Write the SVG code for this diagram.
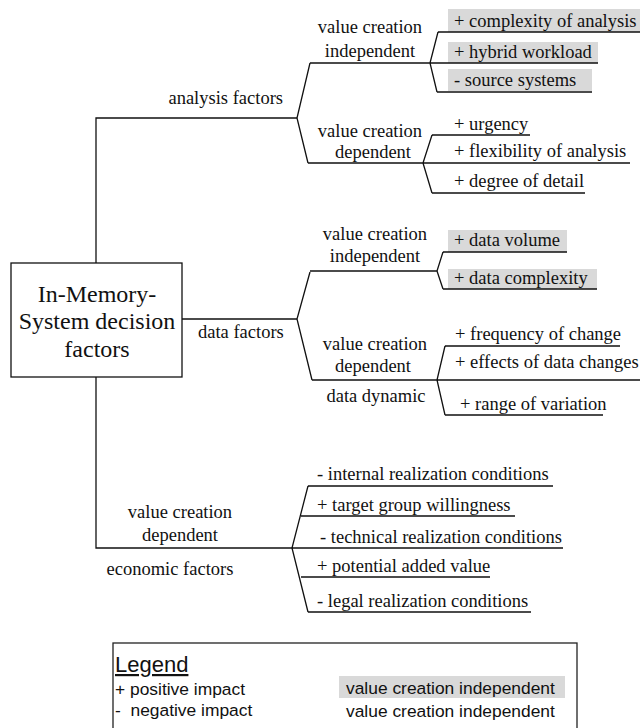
<svg xmlns="http://www.w3.org/2000/svg" width="640" height="728" viewBox="0 0 640 728">
<style>
.t{font-family:"Liberation Serif","Times New Roman",serif;font-size:18.5px;fill:#111}
.c{text-anchor:middle}
.big{font-family:"Liberation Serif","Times New Roman",serif;font-size:24px;fill:#111;text-anchor:middle}
.l{font-family:"Liberation Sans",Arial,sans-serif;font-size:17.4px;fill:#111}
.lg{font-family:"Liberation Sans",Arial,sans-serif;font-size:22px;fill:#111;text-decoration:underline}
.hl{fill:#d9d9d9}
.ln{fill:none;stroke:#111;stroke-width:1.3}
</style>
<rect width="640" height="728" fill="#fff"/>
<g id="highlights">
<rect class="hl" x="448" y="9" width="192" height="23"/>
<rect class="hl" x="448" y="42" width="150" height="21"/>
<rect class="hl" x="448" y="69" width="144" height="22"/>
<rect class="hl" x="448" y="230" width="119" height="22"/>
<rect class="hl" x="448" y="269" width="149" height="20"/>
</g>
<g id="connectors">
<path class="ln" d="M96,263 V118 H297 M96,377 V548 H292 M182,319 H297"/>
<path class="ln" d="M310,63 L297,118 L308,163"/>
<path class="ln" d="M310,63 H430 M438,32 L430,63 L437,92 M438,32 H640 M430,63 H598 M437,92 H592"/>
<path class="ln" d="M308,163 H423 M432,135 L423,163 L432,193 M432,135 H530 M423,163 H630 M432,193 H585"/>
<path class="ln" d="M310,272 L297,319 L312,380"/>
<path class="ln" d="M310,271 H437 M443,252 L437,271 L443,289 M443,252 H567 M443,289 H597"/>
<path class="ln" d="M312,380 H437 M445,346 L437,380 L445,415 M445,346 H620 M437,380 H640 M445,415 H603"/>
<path class="ln" d="M308,486 L292,548 L308,612 M308,486 H553 M301,516 H515 M292,548 H563 M301,577 H490 M308,612 H531"/>
</g>
<g id="root">
<rect x="11" y="263" width="171" height="114" fill="#fff" stroke="#111" stroke-width="1.3"/>
<text class="big" x="97" y="302">In-Memory-</text>
<text class="big" x="97" y="329">System decision</text>
<text class="big" x="97" y="357">factors</text>
</g>
<g id="analysis-factors">
<text class="t" x="283" y="104" text-anchor="end">analysis factors</text>
</g>
<g id="analysis-vci">
<text class="t c" x="370" y="33">value creation</text>
<text class="t c" x="370" y="57">independent</text>
</g>
<g id="analysis-vci-items">
<text class="t" x="454" y="27">+ complexity of analysis</text>
<text class="t" x="454" y="58">+ hybrid workload</text>
<text class="t" x="454" y="86">- source systems</text>
</g>
<g id="analysis-vcd">
<text class="t c" x="370" y="137">value creation</text>
<text class="t c" x="373" y="158">dependent</text>
</g>
<g id="analysis-vcd-items">
<text class="t" x="454" y="130">+ urgency</text>
<text class="t" x="454" y="157">+ flexibility of analysis</text>
<text class="t" x="454" y="187">+ degree of detail</text>
</g>
<g id="data-factors">
<text class="t" x="198" y="338">data factors</text>
</g>
<g id="data-vci">
<text class="t c" x="375" y="240">value creation</text>
<text class="t c" x="375" y="262">independent</text>
</g>
<g id="data-vci-items">
<text class="t" x="454" y="246">+ data volume</text>
<text class="t" x="454" y="284">+ data complexity</text>
</g>
<g id="data-vcd">
<text class="t c" x="375" y="350">value creation</text>
<text class="t c" x="373" y="372">dependent</text>
<text class="t c" x="376" y="402">data dynamic</text>
</g>
<g id="data-vcd-items">
<text class="t" x="455" y="340">+ frequency of change</text>
<text class="t" x="455" y="368">+ effects of data changes</text>
<text class="t" x="460" y="410">+ range of variation</text>
</g>
<g id="economic-factors">
<text class="t c" x="180" y="518">value creation</text>
<text class="t c" x="180" y="541">dependent</text>
<text class="t c" x="170" y="575">economic factors</text>
</g>
<g id="economic-items">
<text class="t" x="317" y="480">- internal realization conditions</text>
<text class="t" x="317" y="511">+ target group willingness</text>
<text class="t" x="320" y="543">- technical realization conditions</text>
<text class="t" x="317" y="572">+ potential added value</text>
<text class="t" x="317" y="607">- legal realization conditions</text>
</g>
<g id="legend">
<rect x="113" y="643" width="464" height="90" fill="#fff" stroke="#222" stroke-width="1.3"/>
<text class="lg" x="115" y="672">Legend</text>
<text class="l" x="115" y="695">+ positive impact</text>
<text class="l" x="115" y="716" xml:space="preserve">-  negative impact</text>
<rect class="hl" x="339" y="676" width="226" height="22"/>
<text class="l" x="346" y="694">value creation independent</text>
<text class="l" x="346" y="717">value creation independent</text>
</g>
</svg>
